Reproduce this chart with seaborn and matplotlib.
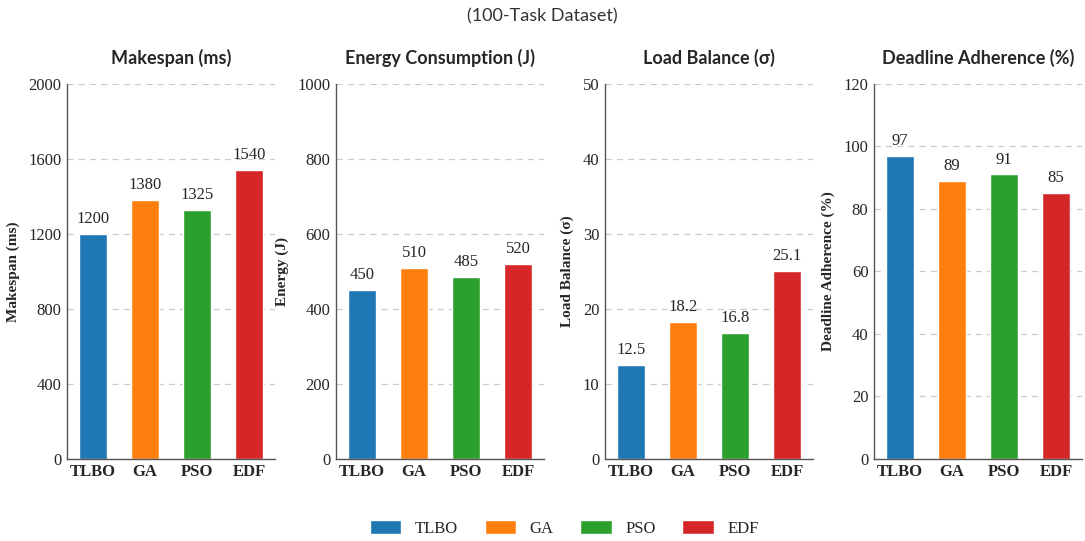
import pandas as pd
import seaborn as sns
import matplotlib.pyplot as plt
from matplotlib.patches import Patch

# values
methods = ['TLBO', 'GA', 'PSO', 'EDF']
makespan = [1200, 1380, 1325, 1540]
energy = [450, 510, 485, 520]
load_balance = [12.5, 18.2, 16.8, 25.1]
deadline = [97, 89, 91, 85]

titles = ['Makespan (ms)', 'Energy Consumption (J)', 'Load Balance (σ)', 'Deadline Adherence (%)']
ylabels = ['Makespan (ms)', 'Energy (J)', 'Load Balance (σ)', 'Deadline Adherence (%)']
ylims = [2000, 1000, 50, 120]
yticks = [[0, 400, 800, 1200, 1600, 2000], [0, 200, 400, 600, 800, 1000],
          [0, 10, 20, 30, 40, 50], [0, 20, 40, 60, 80, 100, 120]]
colors = ['#1f77b4', '#ff7f0e', '#2ca02c', '#d62728']

sns.set_style("white")
plt.rcParams['font.family'] = ['Liberation Serif', 'DejaVu Serif']

fig = plt.figure(figsize=(10.85, 5.41), dpi=100)
lefts = [67, 336, 605, 874]
series = [makespan, energy, load_balance, deadline]

for i, vals in enumerate(series):
    ax = fig.add_axes([lefts[i] / 1085, 0.152, 208 / 1085, 0.693])
    df = pd.DataFrame({'method': methods, 'value': vals})
    sns.barplot(data=df, x='method', y='value', hue='method', palette=colors,
                width=0.55, legend=False, ax=ax, saturation=1)
    ax.set_ylim(0, ylims[i])
    ax.set_yticks(yticks[i])
    ax.set_xlim(-0.5, 3.5)
    ax.yaxis.grid(True, linestyle=(0, (5, 4)), color='#cccccc', linewidth=0.9)
    ax.set_axisbelow(True)
    sns.despine(ax=ax)
    for s in ['left', 'bottom']:
        ax.spines[s].set_color('#555555')
        ax.spines[s].set_linewidth(1)
    ax.tick_params(length=0, labelsize=12, pad=4)
    for lab in ax.get_xticklabels():
        lab.set_fontweight('bold')
    ax.set_xlabel('')
    ax.set_ylabel(ylabels[i], fontsize=11, fontweight='bold', labelpad=6)
    ax.set_title(titles[i], fontsize=13, fontweight='bold', family='Lato', pad=14)
    for j, v in enumerate(vals):
        ax.annotate(f'{v:g}', (j, v), xytext=(0, 5), textcoords='offset points',
                    ha='center', va='bottom', fontsize=12)

fig.suptitle('(100-Task Dataset)', y=0.985, fontsize=13, family='Lato', color='#333333')

handles = [Patch(facecolor=c, label=m) for m, c in zip(methods, colors)]
fig.legend(handles=handles, loc='lower center', ncol=4, frameon=False,
           bbox_to_anchor=(0.52, -0.02), fontsize=12, handlelength=1.9,
           handleheight=0.9, columnspacing=1.6, handletextpad=0.8)

fig.savefig('out.png', dpi=100)
